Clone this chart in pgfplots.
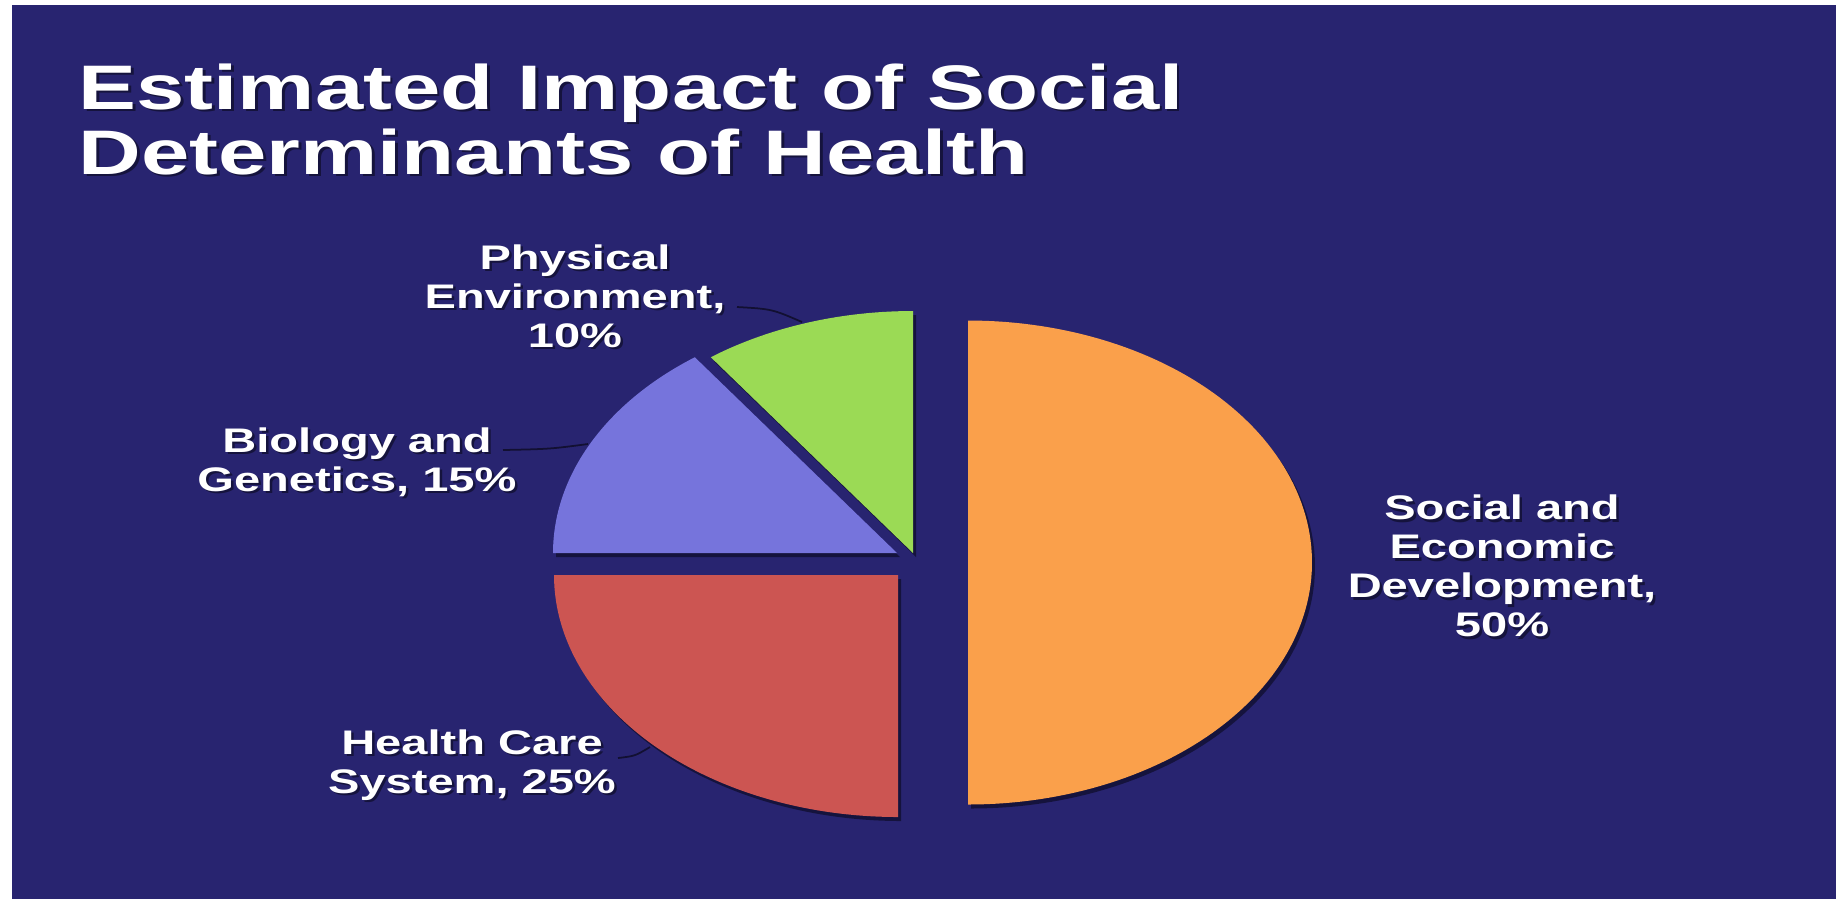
\documentclass[border=0pt]{standalone}
\usepackage{pgfplots}
\pgfplotsset{compat=1.18}
\usepackage{fontspec}
\setmainfont{Liberation Sans}[FakeStretch=1.38]
\definecolor{navy}{RGB}{40,36,112}
\definecolor{cOrange}{RGB}{250,160,75}
\definecolor{cRed}{RGB}{204,85,82}
\definecolor{cBlue}{RGB}{118,116,220}
\definecolor{cGreen}{RGB}{155,218,85}
\definecolor{leader}{RGB}{18,16,50}
\newcommand{\rx}{344}
\newcommand{\ry}{242}
% #1 start angle, #2 value (%), #3 vertex x, #4 vertex y, #5 colour
\newcommand{\pieslice}[5]{%
  \addplot[draw=none, fill=black, fill opacity=0.45, domain={#1-3.6*#2}:{#1}, samples=120, variable=\t]
    ({#3+3+\rx*cos(\t)}, {#4+4-\ry*sin(\t)}) -- (#3+3,#4+4) -- cycle;
  \addplot[draw=none, fill=#5, domain={#1-3.6*#2}:{#1}, samples=120, variable=\t]
    ({#3+\rx*cos(\t)}, {#4-\ry*sin(\t)}) -- (#3,#4) -- cycle;
}
\newcommand{\labfont}{\fontsize{9.7}{11.1}\selectfont\bfseries}
\newcommand{\titfont}{\fontsize{17.9}{18.5}\selectfont\bfseries}
% #1 dx, #2 dy, #3 colour, #4 opacity
\newcommand{\alltext}[4]{%
  \node[anchor=base west, text=#3, text opacity=#4, font=\titfont, inner sep=0pt] at (78+#1,109+#2) {Estimated Impact of Social};
  \node[anchor=base west, text=#3, text opacity=#4, font=\titfont, inner sep=0pt] at (78+#1,174+#2) {Determinants of Health};
  \node[text=#3, text opacity=#4, font=\labfont, align=center, inner sep=0pt] at (575+#1,296+#2) {Physical\\Environment,\\10\%};
  \node[text=#3, text opacity=#4, font=\labfont, align=center, inner sep=0pt] at (357+#1,462+#2) {Biology and\\Genetics, 15\%};
  \node[text=#3, text opacity=#4, font=\labfont, align=center, inner sep=0pt] at (472+#1,765+#2) {Health Care\\System, 25\%};
  \node[text=#3, text opacity=#4, font=\labfont, align=center, inner sep=0pt] at (1502+#1,566+#2) {Social and\\Economic\\Development,\\50\%};
}
\begin{document}
\begin{tikzpicture}
\begin{axis}[hide axis, scale only axis, width=18.36cm, height=8.99cm,
  xmin=0, xmax=1836, ymin=0, ymax=899, y dir=reverse, clip=false, no markers]
\fill[white] (0,0) rectangle (1836,899);
\fill[navy] (12,5) rectangle (1836,899);
% slices: start angle, value, vertex
\pieslice{90}{50}{968}{562.5}{cOrange}
\pieslice{-90}{25}{898}{575}{cRed}
\pieslice{-180}{15}{897}{553}{cBlue}
\pieslice{-234}{10}{913}{553}{cGreen}
% leader lines
\draw[leader, line width=0.5pt] (737,307) .. controls (772,309) .. (802,322);
\draw[leader, line width=0.5pt] (503,450) .. controls (550,449) .. (588,444);
\draw[leader, line width=0.5pt] (618,758) .. controls (635,756) .. (650,747);
% text with shadow
\alltext{2.5}{2.5}{black}{0.45}
\alltext{0}{0}{white}{1}
\end{axis}
\pgfresetboundingbox
\path[use as bounding box] (current axis.south west) rectangle (current axis.north east);
\end{tikzpicture}
\end{document}
